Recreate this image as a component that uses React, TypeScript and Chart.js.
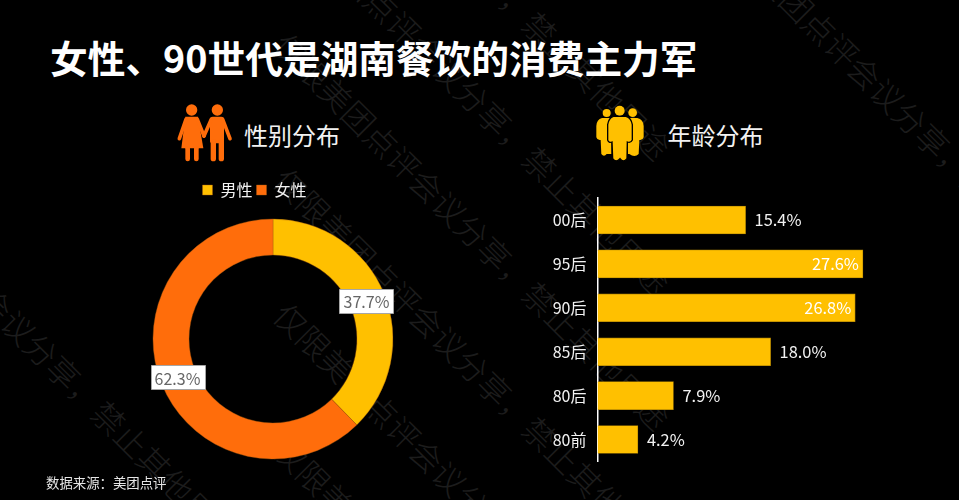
import React, { useEffect, useRef } from "react";
import { Chart, registerables } from "chart.js";

Chart.register(...registerables);

const FONT = '"Noto Sans CJK SC", "Noto Sans", sans-serif';
const genderLabels = ["男性", "女性"];
const genderValues = [37.7, 62.3];
const genderColors = ["#FFC000", "#FF6D0B"];
const ageLabels = ["00后", "95后", "90后", "85后", "80后", "80前"];
const ageValues = [15.4, 27.6, 26.8, 18.0, 7.9, 4.2];
const titleText = "女性、90世代是湖南餐饮的消费主力军";
const watermarkText = "仅限美团点评会议分享，禁止其他用途";
const watermarkStarts = [
  [-139, 168], [292, -221], [292, -86], [292, 49], [292, 184], [292, 319], [292, 454], [730, -64],
];

const legendShift = {
  id: "legendShift",
  afterLayout(chart: any) {
    chart.legend.left -= 18.5;
    chart.legend.right -= 18.5;
  },
};

const sliceLabels = {
  id: "sliceLabels",
  afterDatasetsDraw(chart: any) {
    const { ctx } = chart;
    chart.getDatasetMeta(0).data.forEach((arc: any, i: number) => {
      const { x, y } = arc.getCenterPoint();
      const text = genderValues[i].toFixed(1) + "%";
      ctx.save();
      ctx.fillStyle = "#fff";
      ctx.strokeStyle = "#a6a6a6";
      ctx.lineWidth = 1;
      ctx.beginPath();
      ctx.rect(Math.round(x - 28) + 0.5, Math.round(y - 12) + 0.5, 54, 24);
      ctx.fill();
      ctx.stroke();
      ctx.fillStyle = "#666";
      ctx.font = `16px ${FONT}`;
      ctx.textAlign = "center";
      ctx.textBaseline = "middle";
      ctx.fillText(text, x - 1, y + 1);
      ctx.restore();
    });
  },
};

const barLabels = {
  id: "barLabels",
  afterDatasetsDraw(chart: any) {
    const { ctx } = chart;
    chart.getDatasetMeta(0).data.forEach((bar: any, i: number) => {
      const inside = ageValues[i] > 25;
      ctx.save();
      ctx.fillStyle = inside ? "#fff" : "#f2f2f2";
      ctx.font = `16.4px ${FONT}`;
      ctx.textAlign = inside ? "right" : "left";
      ctx.textBaseline = "middle";
      ctx.fillText(ageValues[i].toFixed(1) + "%", bar.x + (inside ? -4 : 9), bar.y);
      ctx.restore();
    });
  },
};

function CoupleIcon() {
  const c = "#FF6D0B";
  return (
    <svg style={{ position: "absolute", left: 0, top: 90 }} width={480} height={210} viewBox="0 0 1440 630">
      <g fill={c} stroke="none">
        <circle cx={575} cy={60} r={17} />
        <circle cx={652} cy={60} r={17} />
        <polygon points="556,80 594,80 610,175 544,175" />
        <rect x={630} y={80} width={42} height={80} rx={8} />
      </g>
      <g stroke={c} strokeLinecap="round" fill="none">
        <g strokeWidth={11}>
          <line x1={558} y1={88} x2={538} y2={146} />
          <line x1={592} y1={88} x2={612} y2={138} />
          <line x1={634} y1={88} x2={612} y2={138} />
          <line x1={668} y1={88} x2={690} y2={146} />
        </g>
        <g strokeWidth={14}>
          <line x1={563} y1={175} x2={563} y2={207} />
          <line x1={589} y1={175} x2={589} y2={207} />
        </g>
        <g strokeWidth={16}>
          <line x1={640} y1={155} x2={640} y2={206} />
          <line x1={664} y1={155} x2={664} y2={206} />
        </g>
      </g>
    </svg>
  );
}

function CrowdIcon() {
  const c = "#FFC000";
  return (
    <svg style={{ position: "absolute", left: 540, top: 90 }} width={419} height={210} viewBox="0 0 1257 630">
      <g fill={c}>
        <circle cx={200} cy={69} r={12} />
        <circle cx={278} cy={68} r={13} />
        <path d="M186 84 Q170 88 169 108 L169 142 Q172 152 182 150 L184 192 Q192 202 200 192 L214 192 L214 84 Z" />
        <path d="M292 84 Q310 88 311 108 L311 142 Q308 152 298 150 L296 192 Q284 204 268 192 L264 192 L264 84 Z" />
        <circle cx={239} cy={62} r={15} />
        <path
          d="M220 79 L258 79 Q274 84 277 104 L277 150 Q272 160 262 156 L261 206 Q250 220 240 206 Q228 220 218 206 L216 156 Q206 160 203 150 L203 104 Q206 84 220 79 Z"
          stroke="#000"
          strokeWidth={4}
        />
      </g>
    </svg>
  );
}

export default function App() {
  const pieRef = useRef<HTMLCanvasElement>(null);
  const barRef = useRef<HTMLCanvasElement>(null);

  useEffect(() => {
    document.body.style.margin = "0";
    document.body.style.background = "#000";
    const pie = new Chart(pieRef.current!, {
      type: "doughnut",
      data: {
        labels: genderLabels,
        datasets: [
          {
            data: genderValues,
            backgroundColor: genderColors,
            borderColor: "#a85a10",
            borderWidth: 0.4,
          } as any,
        ],
      },
      options: {
        responsive: false,
        animation: false,
        radius: 120,
        cutout: "70%",
        layout: { padding: { bottom: 4 } },
        plugins: {
          tooltip: { enabled: false },
          legend: {
            position: "top",
            labels: {
              color: "#f2f2f2",
              font: { family: FONT, size: 16 },
              boxWidth: 10,
              boxHeight: 10,
              padding: 4,
            },
          },
        },
      } as any,
      plugins: [legendShift, sliceLabels],
    });
    const bar = new Chart(barRef.current!, {
      type: "bar",
      data: {
        labels: ageLabels,
        datasets: [
          {
            data: ageValues,
            backgroundColor: "#FFC000",
            borderColor: "#B38600",
            borderWidth: 0.75,
            barThickness: 28,
          } as any,
        ],
      },
      options: {
        indexAxis: "y",
        responsive: false,
        animation: false,
        layout: { padding: { top: 8, bottom: 8.5, right: 73, left: 0 } },
        plugins: { legend: { display: false }, tooltip: { enabled: false } },
        scales: {
          x: { display: false, min: 0, max: 30 },
          y: {
            afterFit(scale: any) {
              scale.width = 97.5;
              scale.paddingTop = 0;
              scale.paddingBottom = 0;
            },
            grid: { drawOnChartArea: false, drawTicks: false },
            border: { display: true, color: "#ffffff", width: 1.5 },
            ticks: {
              color: "#f2f2f2",
              font: { family: FONT, size: 16 },
              padding: 11,
            },
          },
        },
      },
      plugins: [barLabels],
    });
    return () => {
      pie.destroy();
      bar.destroy();
    };
  }, []);

  return (
    <div
      style={{
        position: "absolute",
        left: 0,
        top: 0,
        width: 959,
        height: 500,
        background: "#000",
        overflow: "hidden",
        fontFamily: FONT,
      }}
    >
      {watermarkStarts.map(([x, y], i) => (
        <span
          key={i}
          style={{
            position: "absolute",
            left: x - 16,
            top: y - 16,
            lineHeight: "32px",
            fontSize: 32,
            fontWeight: 300,
            whiteSpace: "nowrap",
            color: "#1c1c1c",
            transform: "rotate(45deg)",
            transformOrigin: "16px 16px",
          }}
        >
          {watermarkText}
        </span>
      ))}
      <div
        style={{
          position: "absolute",
          left: 50,
          top: 32,
          fontSize: 37.7,
          lineHeight: "50px",
          fontWeight: 700,
          color: "#fff",
          whiteSpace: "nowrap",
        }}
      >
        {titleText}
      </div>
      <CoupleIcon />
      <CrowdIcon />
      <div style={{ position: "absolute", left: 244, top: 117, fontSize: 24, lineHeight: "36px", color: "#f2f2f2" }}>
        性别分布
      </div>
      <div style={{ position: "absolute", left: 667.5, top: 117, fontSize: 24, lineHeight: "36px", color: "#f2f2f2" }}>
        年龄分布
      </div>
      <canvas ref={pieRef} width={546} height={296} style={{ position: "absolute", left: 0, top: 178 }} />
      <canvas ref={barRef} width={459} height={280} style={{ position: "absolute", left: 500, top: 190 }} />
      <div style={{ position: "absolute", left: 46, top: 472, fontSize: 13.4, lineHeight: "20px", color: "#e6e6e6" }}>
        数据来源：美团点评
      </div>
    </div>
  );
}
